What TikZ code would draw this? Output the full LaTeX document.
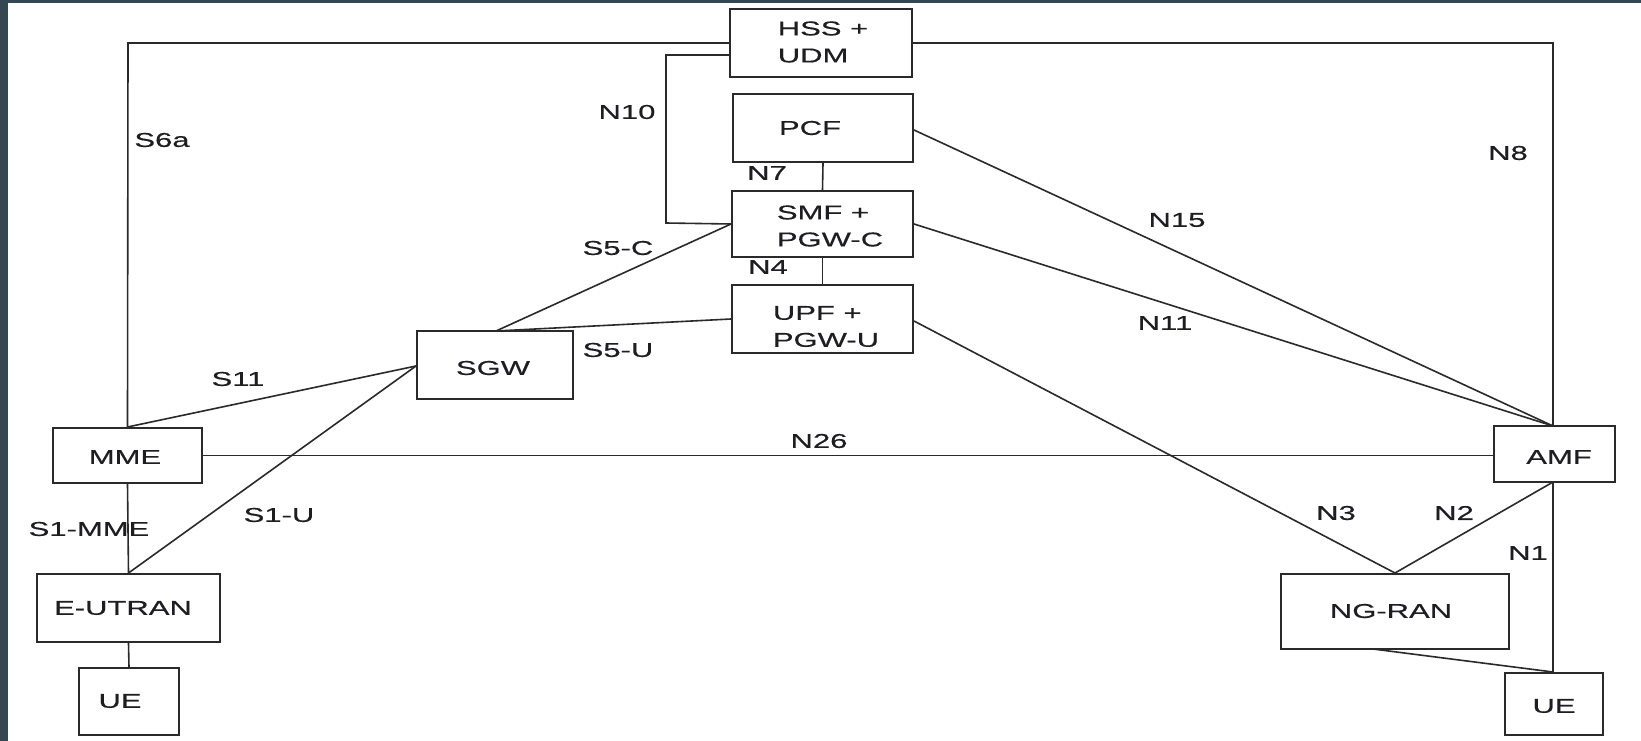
\documentclass[tikz,border=0pt]{standalone}
\usepackage{fontspec}
\setmainfont[FakeStretch=1.55,FakeBold=0.4]{Liberation Sans}
\usetikzlibrary{calc}
\definecolor{frame}{RGB}{52,71,82}
\definecolor{ink}{RGB}{42,42,42}
\definecolor{tink}{RGB}{30,30,34}
\tikzset{
  box/.style={draw=ink, line width=2pt, inner sep=0pt},
  txt/.style={font=\fontsize{20}{27}\selectfont, text=tink, inner sep=0pt},
  txtii/.style={font=\fontsize{20}{27}\selectfont, text=tink, inner sep=0pt, align=left},
  conn/.style={draw=ink, line width=1.6pt},
  lbl/.style={font=\fontsize{20}{24}\selectfont, text=tink, inner sep=0pt}
}
\begin{document}
\begin{tikzpicture}[x=1pt,y=-1pt]
\useasboundingbox (0,0) rectangle (1641,741);
\fill[white] (0,0) rectangle (1641,741);
\fill[frame] (0,0) rectangle (1641,3.3);
\fill[frame] (0,0) rectangle (8,741);

% boxes
\node[box, minimum width=182pt, minimum height=68pt] (hss) at (821,43) {};
\node[box, minimum width=180pt, minimum height=68pt] (pcf) at (823,128) {};
\node[box, minimum width=181pt, minimum height=66pt] (smf) at (822.5,224) {};
\node[box, minimum width=181pt, minimum height=68pt] (upf) at (822.5,319) {};
\node[box, minimum width=156pt, minimum height=68pt] (sgw) at (495,365) {};
\node[box, minimum width=149pt, minimum height=55pt] (mme) at (127.5,455.5) {};
\node[box, minimum width=183pt, minimum height=68pt] (eutran) at (128.5,608) {};
\node[box, minimum width=100pt, minimum height=67pt] (ueL) at (129,701.5) {};
\node[box, minimum width=121pt, minimum height=56pt] (amf) at (1554.5,454) {};
\node[box, minimum width=228pt, minimum height=75pt] (ngran) at (1395,611.5) {};
\node[box, minimum width=98pt, minimum height=62pt] (ueR) at (1554,704) {};

% box texts
\node[txtii] (hsst) at (823,42) {HSS +\\UDM};
\node[txt] (pcft) at (810,128) {PCF};
\node[txtii] (smft) at (830,226) {SMF +\\PGW-C};
\node[txtii] (upft) at (826,326.5) {UPF +\\PGW-U};
\node[txt] (sgwt) at (493,368) {SGW};
\node[txt] (mmet) at (125,457) {MME};
\node[txt] (eutrant) at (123,608) {E-UTRAN};
\node[txt] (ueLt) at (120,701) {UE};
\node[txt] (amft) at (1559,457) {AMF};
\node[txt] (ngrant) at (1391,611) {NG-RAN};
\node[txt] (ueRt) at (1554,706) {UE};

% anchor coordinates
\coordinate (n10a) at ($(hss.west)+(0,12)$);
\coordinate (n10b) at (666,223);
\coordinate (sgwtop) at (496,331);
\coordinate (sgwleft) at ($(sgw.west)+(0,1)$);
\coordinate (amftop) at (1553,426);
\coordinate (amfbot) at (1553,482);
\coordinate (pcfr) at ($(pcf.east)+(0,2)$);
\coordinate (upfr) at ($(upf.east)+(0,2)$);
\coordinate (ngbot) at (1373,649);
\coordinate (corTL) at (128,43);
\coordinate (corTR) at (1553,43);

% connectors
\draw[conn] (mme.north) -- (corTL) -- (hss.west);
\draw[conn] (hss.east) -- (corTR) -- (amftop);
\draw[conn] (n10a) -| (n10b) -- (smf.west);
\draw[conn] (pcf.south) -- (smf.north);
\draw[conn] (smf.south) -- (upf.north);
\draw[conn] (sgwtop) -- (smf.west);
\draw[conn] (sgwtop) -- (upf.west);
\draw[conn] (mme.north) -- (sgwleft);
\draw[conn] (eutran.north) -- (sgwleft);
\draw[conn] (mme.east) -- (amf.west |- mme.east);
\draw[conn] (mme.south) -- (eutran.north);
\draw[conn] (eutran.south) -- (ueL.north);
\draw[conn] (pcfr) -- (amftop);
\draw[conn] (smf.east) -- (amftop);
\draw[conn] (upfr) -- (ngran.north);
\draw[conn] (amfbot) -- (ngran.north);
\draw[conn] (amfbot) -- (amfbot |- ueR.north);
\draw[conn] (ngbot) -- (amfbot |- ueR.north);

% labels
\node[lbl] (lS6a) at (162,140) {S6a};
\node[lbl] (lN8) at (1508,153) {N8};
\node[lbl] (lN10) at (627,112) {N10};
\node[lbl] (lN7) at (767,173) {N7};
\node[lbl] (lN4) at (768,267) {N4};
\node[lbl] (lN15) at (1177,220) {N15};
\node[lbl] (lN11) at (1165,323) {N11};
\node[lbl] (lS5C) at (618,248) {S5-C};
\node[lbl] (lS5U) at (618,350) {S5-U};
\node[lbl] (lS11) at (238,379) {S11};
\node[lbl] (lN26) at (819,441) {N26};
\node[lbl] (lS1MME) at (89,529) {S1-MME};
\node[lbl] (lS1U) at (279,515) {S1-U};
\node[lbl] (lN3) at (1336,513) {N3};
\node[lbl] (lN2) at (1454,513) {N2};
\node[lbl] (lN1) at (1528,553) {N1};
\end{tikzpicture}
\end{document}
